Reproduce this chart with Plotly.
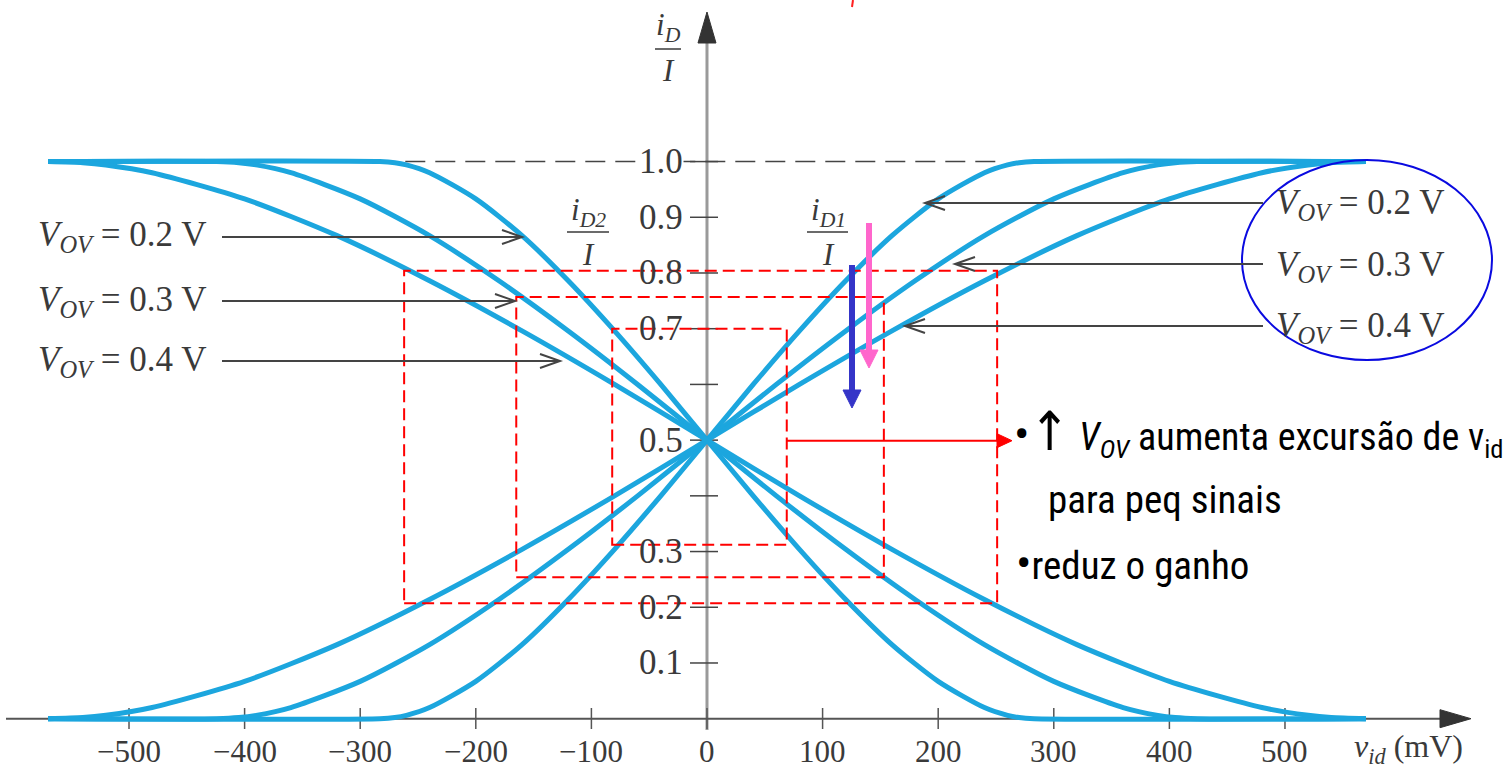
import plotly.graph_objects as go

# ---------------- data ----------------
# v_id in mV, normalised drain currents i_D1/I and i_D2/I
vid_02 = [-570, -283, -270, -260, -240, -200, -160, -120, -80, -40, 0,
          40, 80, 120, 160, 200, 240, 260, 270, 283, 570]
id1_02 = [0.0, 0.0, 0.002, 0.006, 0.02, 0.067, 0.133, 0.214, 0.304, 0.40, 0.5,
          0.60, 0.696, 0.786, 0.867, 0.933, 0.98, 0.994, 0.998, 1.0, 1.0]
id2_02 = [1.0, 1.0, 0.998, 0.994, 0.98, 0.933, 0.867, 0.786, 0.696, 0.60, 0.5,
          0.40, 0.304, 0.214, 0.133, 0.067, 0.02, 0.006, 0.002, 0.0, 0.0]

vid_03 = [-570, -424, -405, -390, -360, -300, -240, -180, -120, -60, 0,
          60, 120, 180, 240, 300, 360, 390, 405, 424, 570]
id1_03 = [0.0, 0.0, 0.002, 0.006, 0.02, 0.067, 0.133, 0.214, 0.304, 0.40, 0.5,
          0.60, 0.696, 0.786, 0.867, 0.933, 0.98, 0.994, 0.998, 1.0, 1.0]
id2_03 = [1.0, 1.0, 0.998, 0.994, 0.98, 0.933, 0.867, 0.786, 0.696, 0.60, 0.5,
          0.40, 0.304, 0.214, 0.133, 0.067, 0.02, 0.006, 0.002, 0.0, 0.0]

vid_04 = [-570, -540, -520, -480, -400, -320, -240, -160, -80, 0,
          80, 160, 240, 320, 400, 480, 520, 540, 570]
id1_04 = [0.0, 0.002, 0.006, 0.02, 0.067, 0.133, 0.214, 0.304, 0.40, 0.5,
          0.60, 0.696, 0.786, 0.867, 0.933, 0.98, 0.994, 0.998, 1.0]
id2_04 = [1.0, 0.998, 0.994, 0.98, 0.933, 0.867, 0.786, 0.696, 0.60, 0.5,
          0.40, 0.304, 0.214, 0.133, 0.067, 0.02, 0.006, 0.002, 0.0]

x_ticks = [-500, -400, -300, -200, -100, 0, 100, 200, 300, 400, 500]
x_tick_labels = ["\u2212500", "\u2212400", "\u2212300", "\u2212200", "\u2212100", "0",
                 "100", "200", "300", "400", "500"]
y_ticks = [0.1, 0.2, 0.3, 0.4, 0.5, 0.6, 0.7, 0.8, 0.9, 1.0]
y_tick_labels = ["0.1", "0.2", "0.3", "", "0.5", "", "0.7", "0.8", "0.9", "1.0"]

vov_labels = ["0.2", "0.3", "0.4"]

# ---------------- layout constants ----------------
W, H = 1503, 770
X_RANGE = [-611.6, 688.6]
Y_RANGE = [-0.0921, 1.29]


def px_x(p):
    return X_RANGE[0] + p * (X_RANGE[1] - X_RANGE[0]) / W


def px_y(p):
    return Y_RANGE[1] - p * (Y_RANGE[1] - Y_RANGE[0]) / H


CURVE = "#1ca6de"
TXT = "#3a3a3a"
SERIF = "Liberation Serif, Times New Roman, serif"
NARROW = ("Roboto Condensed, Noto Sans Condensed, Open Sans Condensed, "
          "DejaVu Sans Condensed, Liberation Sans Narrow, Arial Narrow, sans-serif")

fig = go.Figure()
for vid, i1, i2 in [(vid_02, id1_02, id2_02), (vid_03, id1_03, id2_03), (vid_04, id1_04, id2_04)]:
    for yy in (i1, i2):
        fig.add_trace(go.Scatter(
            x=vid, y=yy, mode="lines",
            line=dict(color=CURVE, width=5, shape="spline", smoothing=0.7),
            hoverinfo="skip", showlegend=False))

shapes = []
annotations = []


def pline(x0, y0, x1, y1, color, width, dash=None, layer="above"):
    ln = dict(color=color, width=width)
    if dash:
        ln["dash"] = dash
    shapes.append(dict(type="line", xref="paper", yref="paper",
                       x0=x0 / W, x1=x1 / W, y0=1 - y0 / H, y1=1 - y1 / H,
                       line=ln, layer=layer))


def phead(xp, yp, path, color, fill=True, width=1):
    shapes.append(dict(type="path", xref="paper", yref="paper",
                       xsizemode="pixel", ysizemode="pixel",
                       xanchor=xp / W, yanchor=1 - yp / H, path=path,
                       fillcolor=color if fill else "rgba(0,0,0,0)",
                       line=dict(color=color, width=width)))


# axes
shapes.append(dict(type="line", xref="x", yref="y", x0=0, x1=0, y0=px_y(730), y1=px_y(40),
                   line=dict(color="#9a9a9a", width=3), layer="below"))
shapes.append(dict(type="path", xref="x", yref="y", xsizemode="pixel", ysizemode="pixel",
                   xanchor=0, yanchor=px_y(12), path="M0,0 L-9,-31 L9,-31 Z",
                   fillcolor="#333", line=dict(color="#333", width=1)))
shapes.append(dict(type="line", xref="x", yref="y", x0=px_x(6), x1=px_x(1445), y0=0, y1=0,
                   line=dict(color="#555", width=2), layer="below"))
shapes.append(dict(type="path", xref="x", yref="y", xsizemode="pixel", ysizemode="pixel",
                   xanchor=px_x(1471), yanchor=0, path="M0,0 L-31,9 L-31,-9 Z",
                   fillcolor="#333", line=dict(color="#333", width=1)))
for t in x_ticks:
    shapes.append(dict(type="line", xref="x", yref="y", x0=t, x1=t, y0=px_y(729), y1=px_y(708),
                       line=dict(color="#555", width=1.5), layer="below"))
for t in y_ticks:
    shapes.append(dict(type="line", xref="x", yref="y", x0=px_x(690), x1=px_x(718), y0=t, y1=t,
                       line=dict(color="#444", width=1.5), layer="below"))

# dashed line at 1.0
shapes.append(dict(type="line", xref="x", yref="y", x0=-261, x1=258, y0=1.0, y1=1.0,
                   line=dict(color="#444", width=1.5, dash="20px,10px"), layer="below"))

# red dashed boxes
for (xa, xb, ya, yb) in [(-262, 251, 0.207, 0.804), (-165, 153, 0.254, 0.757), (-82, 69, 0.312, 0.700)]:
    shapes.append(dict(type="rect", xref="x", yref="y", x0=xa, x1=xb, y0=ya, y1=yb,
                       line=dict(color="#ff0000", width=2, dash="12px,6px")))

# blue ellipse
shapes.append(dict(type="circle", xref="paper", yref="paper",
                   x0=1242 / W, x1=1492 / W, y0=1 - 360 / H, y1=1 - 160 / H,
                   line=dict(color="#0a0ae0", width=2)))
# small red mark at top
pline(853, 0, 852, 7, "#ff2020", 2)

# fraction bars
for (xa, xb, yp) in [(655, 681, 49), (567, 609, 232), (807, 848, 232)]:
    pline(xa, yp, xb, yp, TXT, 1.5)

# tick labels
for t, lab in zip(y_ticks, y_tick_labels):
    if lab:
        annotations.append(dict(x=px_x(684), y=t, xref="x", yref="y", text=lab, showarrow=False,
                                xanchor="right", yanchor="middle",
                                font=dict(family=SERIF, size=35, color=TXT),
                                bgcolor="white" if lab == "1.0" else "rgba(0,0,0,0)", borderpad=0))
for t, lab in zip(x_ticks, x_tick_labels):
    annotations.append(dict(x=t, y=px_y(751), xref="x", yref="y", text=lab, showarrow=False,
                            xanchor="center", yanchor="middle",
                            font=dict(family=SERIF, size=31, color=TXT)))
annotations.append(dict(x=px_x(1352), y=px_y(748), xref="x", yref="y",
                        text="<i>v</i><sub><i>id</i></sub> (mV)", showarrow=False,
                        xanchor="left", yanchor="middle", font=dict(family=SERIF, size=32, color=TXT)))

# fraction labels
for (cx, top, bot, sub) in [(668, 27, 70, "D"), (588, 212, 254, "D2"), (828, 212, 254, "D1")]:
    annotations.append(dict(x=cx / W, y=1 - top / H, xref="paper", yref="paper",
                            text="<i>i</i><sub><i>%s</i></sub>" % sub, showarrow=False,
                            xanchor="center", yanchor="middle",
                            font=dict(family=SERIF, size=31, color=TXT)))
    annotations.append(dict(x=cx / W, y=1 - bot / H, xref="paper", yref="paper",
                            text="<i>I</i>", showarrow=False, xanchor="center", yanchor="middle",
                            font=dict(family=SERIF, size=31, color=TXT)))

# V_OV labels with arrows
left_rows = [237, 301, 361]
left_tips = [522, 515, 560]
right_rows = [205, 266, 328]
right_tips = [925, 955, 905]
for lab, yp, tip in zip(vov_labels, left_rows, left_tips):
    annotations.append(dict(x=36 / W, y=1 - yp / H, xref="paper", yref="paper",
                            text="<i>V</i><sub><i>OV</i></sub> = %s V" % lab, showarrow=False,
                            xanchor="left", yanchor="middle",
                            font=dict(family=SERIF, size=35, color=TXT)))
    pline(222, yp, tip - 1, yp, "#444", 2)
    phead(tip, yp, "M-20,7 L0,0 L-20,-7", "#444", fill=False, width=2)
for lab, yp, tip in zip(vov_labels, right_rows, right_tips):
    annotations.append(dict(x=1274 / W, y=1 - yp / H, xref="paper", yref="paper",
                            text="<i>V</i><sub><i>OV</i></sub> = %s V" % lab, showarrow=False,
                            xanchor="left", yanchor="middle",
                            font=dict(family=SERIF, size=35, color=TXT)))
    pline(1263, yp - 2, tip + 1, yp - 2, "#444", 2)
    phead(tip, yp - 2, "M20,7 L0,0 L20,-7", "#444", fill=False, width=2)

# blue / pink arrows (downwards) and red arrow (rightwards)
for (xp, y0p, y1p, col) in [(852, 265, 408, "#3535c8"), (869, 223, 368, "#ff66cc")]:
    pline(xp, y0p, xp, y1p - 14, col, 6)
    phead(xp, y1p, "M0,0 L-9,18 L9,18 Z", col)
pline(787, 440.7, 1000, 440.7, "#ff0000", 2)
phead(1012, 440.7, "M0,0 L-15,7 L-15,-7 Z", "#ff0000")

# explanatory text
annotations.append(dict(x=1012 / W, y=1 - 432 / H, xref="paper", yref="paper",
                        text="<span style='font-size:46px'>\u2022</span>"
                             "<span style='font-size:54px'>\u2191</span> "
                             "<i>V</i><sub><i>OV</i></sub> aumenta excurs\u00e3o de v<sub>id</sub>",
                        showarrow=False, xanchor="left", yanchor="middle",
                        font=dict(family=NARROW, size=38, color="black")))
annotations.append(dict(x=1046 / W, y=1 - 500 / H, xref="paper", yref="paper",
                        text="para peq sinais", showarrow=False, xanchor="left", yanchor="middle",
                        font=dict(family=NARROW, size=39, color="black")))
annotations.append(dict(x=1014 / W, y=1 - 563 / H, xref="paper", yref="paper",
                        text="<span style='font-size:46px'>\u2022</span>reduz o ganho",
                        showarrow=False, xanchor="left", yanchor="middle",
                        font=dict(family=NARROW, size=39, color="black")))

fig.update_layout(
    width=W, height=H,
    margin=dict(l=0, r=0, t=0, b=0),
    paper_bgcolor="white", plot_bgcolor="white",
    xaxis=dict(range=X_RANGE, visible=False, fixedrange=True),
    yaxis=dict(range=Y_RANGE, visible=False, fixedrange=True),
    shapes=shapes, annotations=annotations, showlegend=False,
)

fig.write_html("out.html", config={"displayModeBar": False},
               post_script="document.body.style.margin='0';document.body.style.overflow='hidden';")
